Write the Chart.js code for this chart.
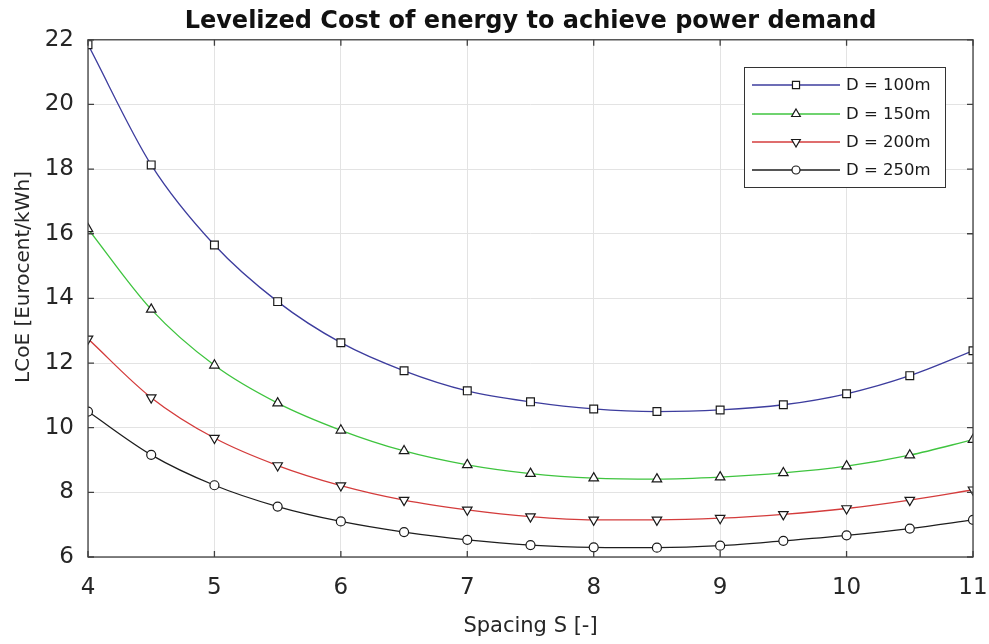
<!DOCTYPE html>
<html>
<head>
<meta charset="utf-8">
<script src="https://cdn.jsdelivr.net/npm/chart.js@4.4.1/dist/chart.umd.min.js"></script>
<style>
  html, body { margin: 0; padding: 0; background: #fff; }
  #wrap { width: 989px; height: 644px; }
</style>
</head>
<body>
<div id="wrap"><canvas id="lcoeChart" width="989" height="644"></canvas></div>
<script>
// Turbine spacing (rotor diameters) and LCoE per rotor diameter
const spacing = [4, 4.5, 5, 5.5, 6, 6.5, 7, 7.5, 8, 8.5, 9, 9.5, 10, 10.5, 11];
const lcoeD100 = [21.85, 18.13, 15.65, 13.9, 12.63, 11.76, 11.14, 10.8, 10.58, 10.5, 10.55, 10.71, 11.05, 11.61, 12.38];
const lcoeD150 = [16.15, 13.66, 11.93, 10.76, 9.92, 9.28, 8.85, 8.58, 8.44, 8.41, 8.47, 8.6, 8.81, 9.15, 9.63];
const lcoeD200 = [12.75, 10.93, 9.68, 8.83, 8.21, 7.76, 7.46, 7.25, 7.15, 7.15, 7.2, 7.32, 7.5, 7.76, 8.08];
const lcoeD250 = [10.5, 9.16, 8.22, 7.56, 7.1, 6.77, 6.53, 6.37, 6.3, 6.29, 6.35, 6.5, 6.67, 6.88, 7.15];
const seriesNames = ["D = 100m", "D = 150m", "D = 200m", "D = 250m"];
const xTicks = [4, 5, 6, 7, 8, 9, 10, 11];
const yTicks = [6, 8, 10, 12, 14, 16, 18, 20, 22];

const FONT = "'DejaVu Sans', 'Liberation Sans', Arial, sans-serif";
const AXIS_COLOR = "#262626";

function series(label, values, color, style, rotation, radius) {
  return {
    label: label,
    data: spacing.map((s, i) => ({ x: s, y: values[i] })),
    borderColor: color,
    borderWidth: 1.3,
    pointStyle: style,
    rotation: rotation,
    pointRadius: radius,
    pointBorderColor: "#1a1a1a",
    pointBorderWidth: 1.2,
    pointBackgroundColor: "#ffffff",
    cubicInterpolationMode: "monotone",
    fill: false,
  };
}

// MATLAB-like axes box with inward ticks on all four sides
const axesBox = {
  id: "axesBox",
  afterDatasetsDraw(chart) {
    const { ctx, chartArea: a, scales } = chart;
    ctx.save();
    ctx.strokeStyle = "#404040";
    ctx.lineWidth = 1.3;
    ctx.strokeRect(a.left, a.top, a.right - a.left, a.bottom - a.top);
    ctx.beginPath();
    const len = 6;
    xTicks.forEach((v) => {
      const px = scales.x.getPixelForValue(v);
      ctx.moveTo(px, a.bottom); ctx.lineTo(px, a.bottom - len);
      ctx.moveTo(px, a.top); ctx.lineTo(px, a.top + len);
    });
    yTicks.forEach((v) => {
      const py = scales.y.getPixelForValue(v);
      ctx.moveTo(a.left, py); ctx.lineTo(a.left + len, py);
      ctx.moveTo(a.right, py); ctx.lineTo(a.right - len, py);
    });
    ctx.stroke();
    ctx.restore();
  },
};

// y axis label, drawn by hand so it can sit a little below the middle
const yLabel = {
  id: "yLabel",
  afterDraw(chart) {
    const { ctx } = chart;
    ctx.save();
    ctx.translate(24, 277);
    ctx.rotate(-Math.PI / 2);
    ctx.fillStyle = AXIS_COLOR;
    ctx.font = "20px " + FONT;
    ctx.textAlign = "center";
    ctx.textBaseline = "middle";
    ctx.fillText("LCoE [Eurocent/kWh]", 0, 0);
    ctx.restore();
  },
};

// boxed legend in the upper right corner, line + marker + label
const boxLegend = {
  id: "boxLegend",
  afterDraw(chart) {
    const { ctx } = chart;
    const x0 = 744, y0 = 67, w = 201, h = 120;
    ctx.save();
    ctx.fillStyle = "#ffffff";
    ctx.fillRect(x0, y0, w, h);
    ctx.strokeStyle = "#333";
    ctx.lineWidth = 1;
    ctx.strokeRect(x0 + 0.5, y0 + 0.5, w, h);
    const rows = [85, 114, 142, 170];
    chart.data.datasets.forEach((ds, i) => {
      const y = rows[i];
      ctx.strokeStyle = ds.borderColor;
      ctx.lineWidth = ds.borderWidth;
      ctx.beginPath();
      ctx.moveTo(752, y);
      ctx.lineTo(840, y);
      ctx.stroke();
      ctx.fillStyle = ds.pointBackgroundColor;
      ctx.strokeStyle = ds.pointBorderColor;
      ctx.lineWidth = ds.pointBorderWidth;
      Chart.helpers.drawPoint(ctx, { pointStyle: ds.pointStyle, rotation: ds.rotation, radius: ds.pointRadius - 0.5, borderWidth: ds.pointBorderWidth }, 796, y);
      ctx.fillStyle = "#1a1a1a";
      ctx.font = "16.5px " + FONT;
      ctx.textBaseline = "middle";
      ctx.textAlign = "left";
      ctx.fillText(ds.label, 846, y + 1);
    });
    ctx.restore();
  },
};

new Chart(document.getElementById("lcoeChart").getContext("2d"), {
  type: "line",
  data: {
    datasets: [
      series(seriesNames[0], lcoeD100, "#3d3d9e", "rect", 0, 5.5),
      series(seriesNames[1], lcoeD150, "#3fc43f", "triangle", 0, 5.5),
      series(seriesNames[2], lcoeD200, "#d43c3c", "triangle", 180, 5.5),
      series(seriesNames[3], lcoeD250, "#1e1e1e", "circle", 0, 4.5),
    ],
  },
  options: {
    responsive: false,
    animation: false,
    devicePixelRatio: 1,
    layout: { padding: { top: 0, right: 16, left: 0, bottom: 0 } },
    plugins: {
      legend: { display: false },
      tooltip: { enabled: false },
      title: {
        display: true,
        fullSize: false,
        text: "Levelized Cost of energy to achieve power demand",
        color: "#111",
        font: { family: FONT, size: 24, weight: "bold", lineHeight: 1.2 },
        padding: { top: 7, bottom: 4 },
      },
    },
    scales: {
      x: {
        type: "linear",
        min: 4,
        max: 11,
        afterFit(scale) {
          scale.height = 87;
          scale.paddingLeft = 0;
          scale.paddingRight = 0;
        },
        afterBuildTicks(scale) { scale.ticks = xTicks.map((v) => ({ value: v })); },
        grid: { color: "#e3e3e3", lineWidth: 1, drawTicks: false },
        border: { display: false },
        ticks: { color: AXIS_COLOR, font: { family: FONT, size: 23 }, padding: 17, maxRotation: 0 },
        title: {
          display: true,
          text: "Spacing S [-]",
          color: AXIS_COLOR,
          font: { family: FONT, size: 21, lineHeight: 1.2 },
          padding: { top: 0, bottom: 5 },
        },
      },
      y: {
        min: 6,
        max: 22,
        afterFit(scale) { scale.width = 88; },
        afterBuildTicks(scale) { scale.ticks = yTicks.map((v) => ({ value: v })); },
        grid: { color: "#e3e3e3", lineWidth: 1, drawTicks: false },
        border: { display: false },
        ticks: { color: AXIS_COLOR, font: { family: FONT, size: 23 }, padding: 14 },
      },
    },
  },
  plugins: [axesBox, yLabel, boxLegend],
});
</script>
</body>
</html>
